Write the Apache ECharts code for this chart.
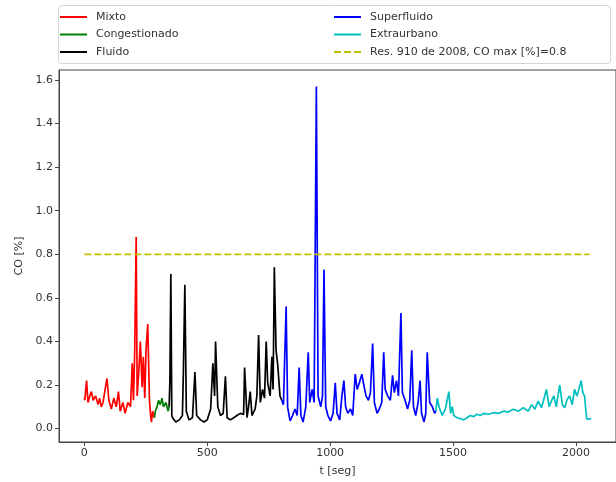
<!DOCTYPE html>
<html>
<head>
<meta charset="utf-8">
<script src="https://cdn.jsdelivr.net/npm/echarts@6/dist/echarts.min.js"></script>
<style>
  html, body { margin: 0; padding: 0; background: #fff; }
  #main { width: 616px; height: 482px; }
</style>
</head>
<body>
<div id="main"></div>
<script>
// CO [%] por tramo de conduccion (t en segundos)
const mixtoT  = [0, 2, 9, 15, 22, 29, 36, 46, 56, 62, 69, 76, 83, 92, 100, 110, 120, 130, 139, 146, 157, 166, 177, 188, 195, 200, 205, 211, 215, 222, 228, 235, 240, 246, 251, 258, 265, 269, 273, 278, 285];
const mixtoCO = [0.14, 0.13, 0.22, 0.12, 0.15, 0.17, 0.13, 0.15, 0.11, 0.14, 0.10, 0.12, 0.12, 0.23, 0.13, 0.09, 0.14, 0.10, 0.17, 0.08, 0.12, 0.07, 0.12, 0.10, 0.30, 0.13, 0.35, 0.88, 0.15, 0.27, 0.40, 0.19, 0.33, 0.14, 0.36, 0.48, 0.13, 0.07, 0.03, 0.08, 0.05];

const congT  = [285, 289, 296, 302, 309, 316, 322, 332, 341, 345];
const congCO = [0.05, 0.08, 0.10, 0.13, 0.11, 0.14, 0.10, 0.12, 0.08, 0.10];

const fluidoT  = [345, 348, 352, 356, 359, 372, 386, 399, 403, 409, 415, 426, 440, 450, 457, 473, 487, 500, 514, 523, 530, 534, 543, 554, 565, 574, 581, 594, 608, 621, 635, 648, 652, 662, 668, 675, 682, 695, 702, 709, 716, 725, 733, 740, 746, 756, 763, 768, 773, 780, 787, 796, 803];
const fluidoCO = [0.10, 0.21, 0.71, 0.06, 0.05, 0.03, 0.04, 0.06, 0.26, 0.66, 0.08, 0.04, 0.05, 0.26, 0.06, 0.04, 0.03, 0.04, 0.09, 0.30, 0.15, 0.40, 0.10, 0.06, 0.07, 0.24, 0.05, 0.04, 0.05, 0.06, 0.07, 0.065, 0.28, 0.05, 0.10, 0.17, 0.06, 0.09, 0.15, 0.43, 0.12, 0.18, 0.14, 0.40, 0.21, 0.15, 0.33, 0.18, 0.74, 0.36, 0.29, 0.15, 0.13];

const superT  = [803, 810, 821, 827, 837, 847, 857, 866, 874, 881, 890, 901, 911, 917, 927, 935, 944, 951, 962, 969, 975, 982, 991, 1002, 1012, 1021, 1028, 1039, 1048, 1056, 1063, 1072, 1083, 1092, 1102, 1110, 1119, 1129, 1137, 1146, 1156, 1164, 1173, 1180, 1191, 1200, 1210, 1218, 1224, 1234, 1245, 1254, 1261, 1270, 1278, 1288, 1294, 1305, 1315, 1324, 1332, 1339, 1348, 1358, 1366, 1372, 1382, 1389, 1395, 1405, 1416, 1425, 1430];
const superCO = [0.13, 0.11, 0.56, 0.10, 0.035, 0.06, 0.09, 0.06, 0.28, 0.06, 0.03, 0.10, 0.35, 0.12, 0.18, 0.12, 1.57, 0.15, 0.10, 0.15, 0.73, 0.10, 0.06, 0.035, 0.07, 0.21, 0.07, 0.04, 0.15, 0.22, 0.10, 0.07, 0.09, 0.06, 0.25, 0.18, 0.21, 0.25, 0.20, 0.15, 0.13, 0.165, 0.39, 0.12, 0.07, 0.09, 0.12, 0.35, 0.18, 0.15, 0.13, 0.245, 0.165, 0.22, 0.15, 0.53, 0.165, 0.13, 0.09, 0.13, 0.36, 0.10, 0.06, 0.12, 0.22, 0.07, 0.03, 0.07, 0.35, 0.12, 0.10, 0.07, 0.08];

const extraT  = [1430, 1436, 1443, 1456, 1469, 1483, 1490, 1497, 1503, 1517, 1530, 1543, 1557, 1570, 1584, 1597, 1611, 1624, 1644, 1665, 1685, 1705, 1725, 1745, 1766, 1786, 1806, 1820, 1833, 1846, 1860, 1873, 1880, 1891, 1900, 1910, 1920, 1934, 1945, 1954, 1964, 1974, 1985, 1994, 2004, 2012, 2021, 2028, 2035, 2039, 2044, 2052, 2062];
const extraCO = [0.08, 0.14, 0.10, 0.06, 0.09, 0.17, 0.07, 0.10, 0.06, 0.05, 0.046, 0.04, 0.05, 0.06, 0.055, 0.066, 0.06, 0.07, 0.066, 0.073, 0.07, 0.08, 0.076, 0.089, 0.08, 0.096, 0.08, 0.11, 0.089, 0.126, 0.096, 0.15, 0.18, 0.10, 0.126, 0.15, 0.10, 0.20, 0.11, 0.096, 0.134, 0.15, 0.11, 0.18, 0.15, 0.18, 0.22, 0.165, 0.15, 0.10, 0.043, 0.05, 0.046];

// limite Res. 910 de 2008
const limT  = [0, 2055];
const limCO = [0.8, 0.8];

const xTicks = [0, 500, 1000, 1500, 2000];
const yTicks = [0, 0.2, 0.4, 0.6, 0.8, 1.0, 1.2, 1.4, 1.6];

const FONT = "DejaVu Sans";
const TXT = "#333";
// icono de 27px + hueco vacio hasta 31px, para separar el texto como en matplotlib
const LINE_ICON = "path://M0,0H27V2H0Z M31,0V2";
const DASH_ICON = "path://M0,0H7V2H0Z M10,0H17V2H10Z M20,0H27V2H20Z M31,0V2";

function pts(t, v) {
  return t.map((x, i) => [x, v[i]]);
}

function lineSerie(name, t, v, color, dashed) {
  return {
    name: name,
    type: "line",
    data: pts(t, v),
    showSymbol: false,
    symbol: "none",
    lineStyle: { width: 1.7, color: color, type: dashed ? [7, 3] : "solid" },
    itemStyle: { color: color },
    animation: false,
  };
}

function legendCol(left, names) {
  return {
    orient: "vertical",
    left: left,
    top: 11,
    padding: 0,
    itemWidth: 31,
    itemHeight: 2,
    itemGap: 5.5,
    data: names.map((n) => ({ name: n, icon: n.startsWith("Res.") ? DASH_ICON : LINE_ICON })),
    textStyle: { fontFamily: FONT, fontSize: 11, color: TXT, lineHeight: 12 },
  };
}

const chart = echarts.init(document.getElementById("main"));

const option = {
  backgroundColor: "#fff",
  animation: false,
  grid: { left: 59, top: 70, right: -4, bottom: 39, show: true, borderColor: "#444", borderWidth: 1 },
  graphic: [
    {
      type: "rect",
      z: 0,
      shape: { x: 58.5, y: 5.5, width: 552, height: 58, r: 3 },
      style: { fill: "#fff", stroke: "#d4d4d4", lineWidth: 1 },
    },
  ],
  legend: [
    legendCol(60, ["Mixto", "Congestionado", "Fluido"]),
    legendCol(334, ["Superfluido", "Extraurbano", "Res. 910 de 2008, CO max [%]=0.8"]),
  ],
  xAxis: {
    type: "value",
    min: -103,
    max: 2163,
    name: "t [seg]",
    nameLocation: "middle",
    nameGap: 24,
    nameTextStyle: { fontFamily: FONT, fontSize: 11, color: TXT },
    axisLine: { show: true, onZero: false, lineStyle: { color: "#444" } },
    axisTick: { show: true, length: 4, lineStyle: { color: "#444" }, customValues: xTicks },
    axisLabel: {
      fontFamily: FONT, fontSize: 11, color: TXT, margin: 6,
      customValues: xTicks,
      formatter: (v) => String(v),
    },
    splitLine: { show: false },
  },
  yAxis: {
    type: "value",
    min: -0.0615,
    max: 1.646,
    name: "CO [%]",
    nameLocation: "middle",
    nameGap: 34,
    nameRotate: 90,
    nameTextStyle: { fontFamily: FONT, fontSize: 11, color: TXT },
    axisLine: { show: true, onZero: false, lineStyle: { color: "#444" } },
    axisTick: { show: true, length: 4, lineStyle: { color: "#444" }, customValues: yTicks },
    axisLabel: {
      fontFamily: FONT, fontSize: 11, color: TXT, margin: 6,
      customValues: yTicks,
      formatter: (v) => v.toFixed(1),
    },
    splitLine: { show: false },
  },
  series: [
    lineSerie("Mixto", mixtoT, mixtoCO, "#ff0000"),
    lineSerie("Congestionado", congT, congCO, "#008000"),
    lineSerie("Fluido", fluidoT, fluidoCO, "#000000"),
    lineSerie("Superfluido", superT, superCO, "#0000ff"),
    lineSerie("Extraurbano", extraT, extraCO, "#00bfbf"),
    lineSerie("Res. 910 de 2008, CO max [%]=0.8", limT, limCO, "#bfbf00", true),
  ],
};

chart.setOption(option);
</script>
</body>
</html>
